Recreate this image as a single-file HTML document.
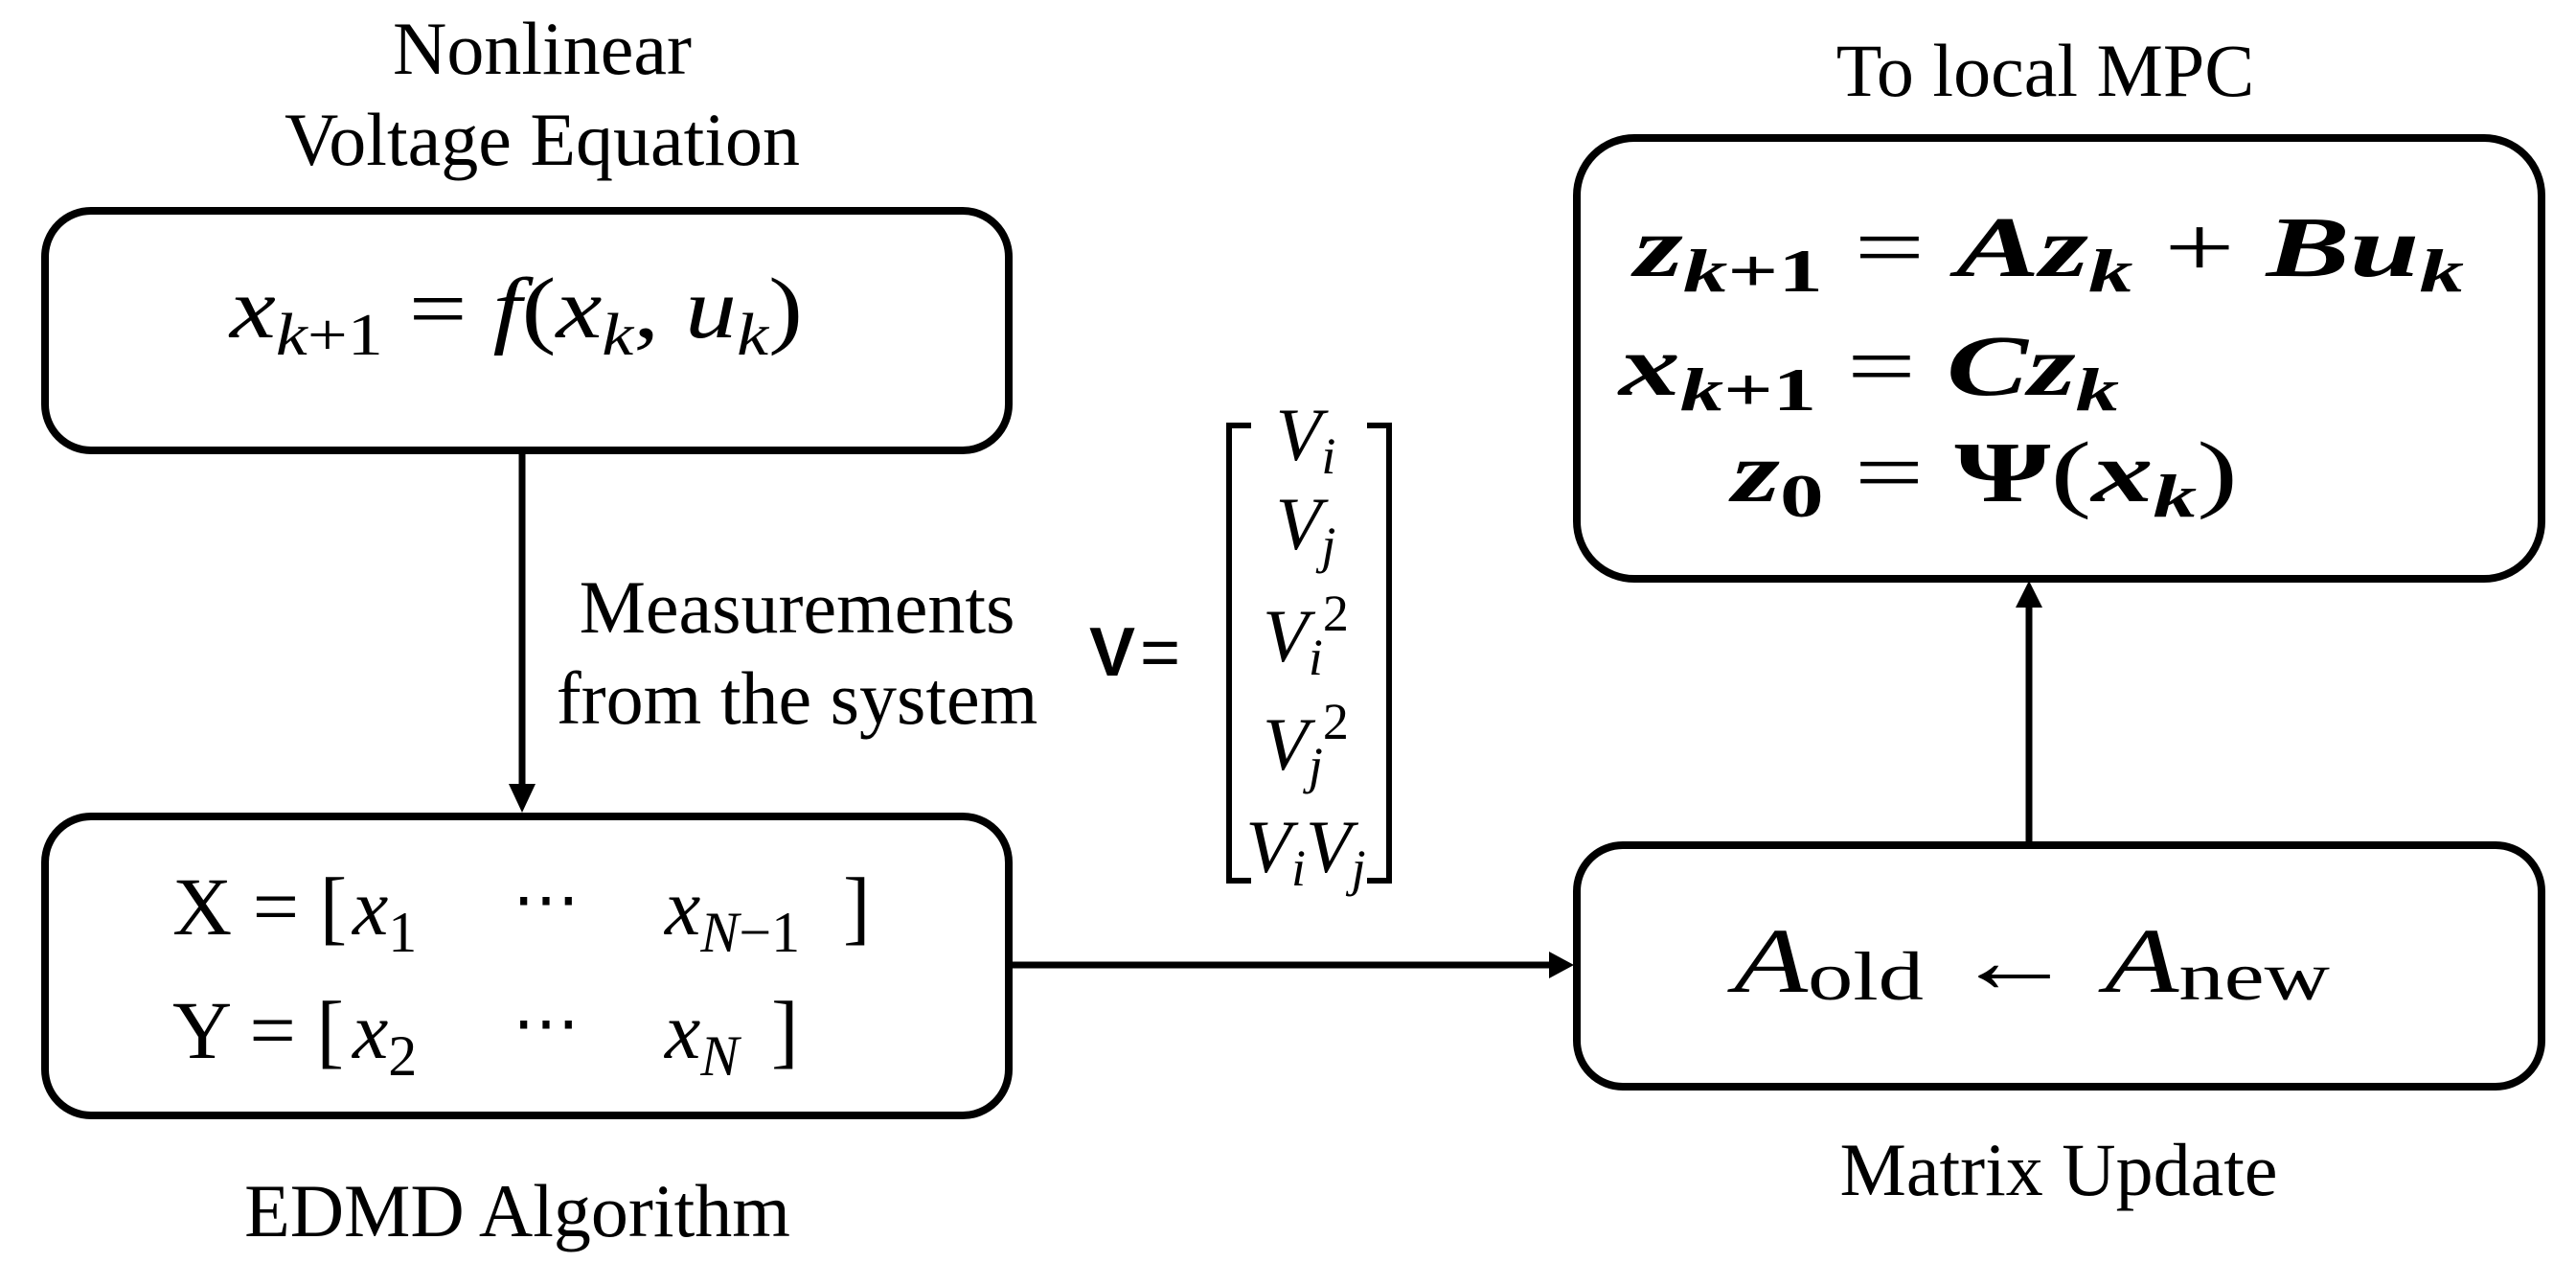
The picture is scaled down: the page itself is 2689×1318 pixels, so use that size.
<!DOCTYPE html>
<html><head><meta charset="utf-8"><style>
html,body{margin:0;padding:0;background:#fff}
svg{display:block}
.t{font-family:"Liberation Serif",serif;fill:#000}
.m{font-family:"Liberation Serif",serif;font-style:italic;fill:#000}
.b{font-family:"Liberation Serif",serif;font-style:italic;font-weight:bold;fill:#000}
</style></head><body>
<svg width="2689" height="1318" viewBox="0 0 2689 1318" xmlns="http://www.w3.org/2000/svg">
<g fill="none" stroke="#000" stroke-width="8">
<rect x="47" y="220" width="1006" height="250" rx="48"/>
<rect x="47" y="852" width="1006" height="312" rx="48"/>
<rect x="1646" y="144" width="1007" height="460" rx="60"/>
<rect x="1646" y="882" width="1007" height="252" rx="48"/>
<line x1="545" y1="474" x2="545" y2="820" stroke-width="7"/>
<line x1="1057" y1="1007" x2="1620" y2="1007" stroke-width="7"/>
<line x1="2118" y1="878" x2="2118" y2="632" stroke-width="7"/>
</g>
<polygon points="531,818 559,818 545,848" fill="#000"/>
<polygon points="1617,993 1617,1021 1643,1007" fill="#000"/>
<polygon points="2104,634 2132,634 2118,606" fill="#000"/>

<text class="t" x="566" y="77" font-size="78" text-anchor="middle">Nonlinear</text>
<text class="t" x="566" y="172" font-size="78" text-anchor="middle">Voltage Equation</text>
<text class="t" x="2135" y="100" font-size="78" text-anchor="middle">To local MPC</text>
<text class="t" x="832" y="660" font-size="78" text-anchor="middle">Measurements</text>
<text class="t" x="832" y="755" font-size="78" text-anchor="middle">from the system</text>
<text class="t" x="540" y="1290" font-size="78" text-anchor="middle">EDMD Algorithm</text>
<text class="t" x="2149" y="1247" font-size="78" text-anchor="middle">Matrix Update</text>

<!-- box1 formula -->
<text class="m" x="240" y="352" font-size="90" textLength="598" lengthAdjust="spacingAndGlyphs">x<tspan font-size="62" dy="18">k</tspan><tspan font-style="normal" font-size="62">+1</tspan><tspan dy="-18" font-style="normal"> = </tspan>f<tspan font-style="normal">(</tspan>x<tspan font-size="62" dy="18">k</tspan><tspan dy="-18" font-style="normal">, </tspan>u<tspan font-size="62" dy="18">k</tspan><tspan dy="-18" font-style="normal">)</tspan></text>

<!-- box2 -->
<text class="t" x="180" y="975" font-size="86">X = [</text>
<text class="m" x="368" y="975" font-size="84">x<tspan font-style="normal" font-size="60" dy="18">1</tspan></text>
<text class="t" x="535" y="962" font-size="70">⋯</text>
<text class="m" x="694" y="975" font-size="84">x<tspan font-size="60" dy="18">N</tspan><tspan font-style="normal" font-size="60">−1</tspan></text>
<text class="t" x="880" y="975" font-size="86">]</text>
<text class="t" x="180" y="1104" font-size="86">Y = [</text>
<text class="m" x="368" y="1104" font-size="84">x<tspan font-style="normal" font-size="60" dy="18">2</tspan></text>
<text class="t" x="535" y="1091" font-size="70">⋯</text>
<text class="m" x="694" y="1104" font-size="84">x<tspan font-size="60" dy="18">N</tspan></text>
<text class="t" x="805" y="1104" font-size="86">]</text>

<!-- V= matrix -->
<text x="1137" y="705" font-family="Liberation Sans,sans-serif" font-weight="bold" font-size="72">V</text>
<text x="1190" y="705" font-family="Liberation Sans,sans-serif" font-size="72">=</text>
<g fill="none" stroke="#000" stroke-width="6">
<polyline points="1306,444 1283,444 1283,919 1306,919"/>
<polyline points="1427,444 1450,444 1450,919 1427,919"/>
</g>
<g class="m" font-size="78" text-anchor="middle">
<text class="m" x="1363" y="480">V<tspan font-size="54" dy="14">i</tspan></text>
<text class="m" x="1363" y="573">V<tspan font-size="54" dy="14">j</tspan></text>
<text class="m" x="1363" y="690">V<tspan font-size="54" dy="14">i</tspan><tspan font-style="normal" font-size="54" dy="-46">2</tspan></text>
<text class="m" x="1363" y="803">V<tspan font-size="54" dy="14">j</tspan><tspan font-style="normal" font-size="54" dy="-46">2</tspan></text>
<text class="m" x="1363" y="910">V<tspan font-size="54" dy="14">i</tspan><tspan dy="-14">V</tspan><tspan font-size="54" dy="14">j</tspan></text>
</g>

<!-- right top box -->
<text class="b" x="1706" y="288" font-size="90" textLength="866" lengthAdjust="spacingAndGlyphs">z<tspan font-size="64" dy="16">k</tspan><tspan font-style="normal" font-size="64">+1</tspan><tspan dy="-16" font-style="normal" font-weight="normal"> = </tspan>Az<tspan font-size="64" dy="16">k</tspan><tspan dy="-16" font-style="normal" font-weight="normal"> + </tspan>Bu<tspan font-size="64" dy="16">k</tspan></text>
<text class="b" x="1690" y="412" font-size="90" textLength="522" lengthAdjust="spacingAndGlyphs">x<tspan font-size="64" dy="16">k</tspan><tspan font-style="normal" font-size="64">+1</tspan><tspan dy="-16" font-style="normal" font-weight="normal"> = </tspan>Cz<tspan font-size="64" dy="16">k</tspan></text>
<text class="b" x="1808" y="523" font-size="90" textLength="528" lengthAdjust="spacingAndGlyphs">z<tspan font-style="normal" font-size="64" dy="16">0</tspan><tspan dy="-16" font-style="normal" font-weight="normal"> = </tspan><tspan font-style="normal">Ψ</tspan><tspan font-style="normal" font-weight="normal">(</tspan>x<tspan font-size="64" dy="16">k</tspan><tspan dy="-16" font-style="normal" font-weight="normal">)</tspan></text>

<!-- right bottom -->
<text class="m" x="1810" y="1035" font-size="96" textLength="622" lengthAdjust="spacingAndGlyphs">A<tspan font-style="normal" font-size="72" dy="8">old</tspan><tspan font-style="normal" dy="-8"> ← </tspan>A<tspan font-style="normal" font-size="72" dy="8">new</tspan></text>
</svg>
</body></html>
